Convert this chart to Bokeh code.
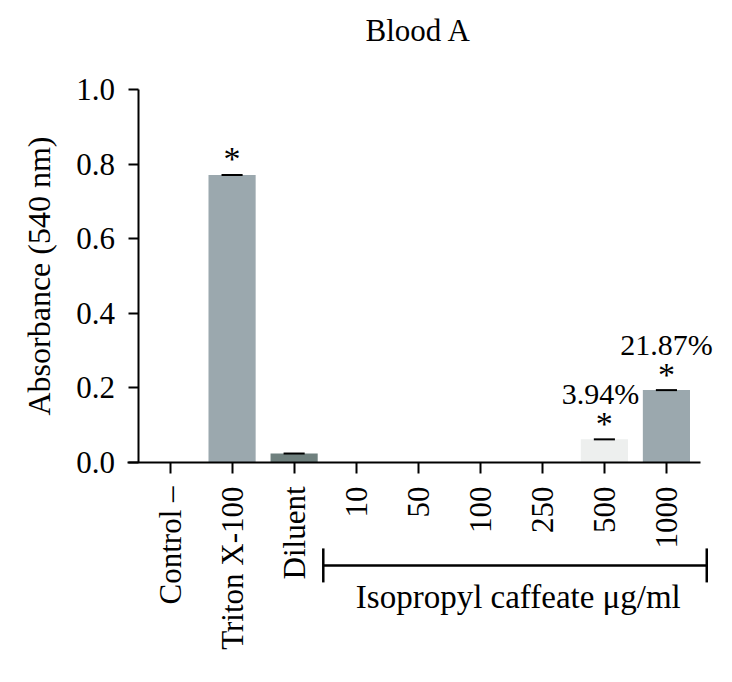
import math
from bokeh.plotting import figure
from bokeh.models import (Range1d, FixedTicker, PrintfTickFormatter, Whisker, TeeHead,
                          Label, LabelSet, ColumnDataSource)
from bokeh.embed import file_html
from bokeh.resources import INLINE

# ---------------- data ----------------
categories = ["Control –", "Triton X-100", "Diluent", "10", "50", "100", "250", "500", "1000"]
absorbance = [0.0, 0.771, 0.024, 0.0, 0.0, 0.0, 0.0, 0.062, 0.194]
has_error_bar = [False, True, True, False, False, False, False, True, True]
significant = [False, True, False, False, False, False, False, True, True]
percent_labels = ["", "", "", "", "", "", "", "3.94%", "21.87%"]
bar_colors = ["#9BA8AE", "#9BA8AE", "#6F807E", "#9BA8AE", "#9BA8AE", "#9BA8AE", "#9BA8AE",
              "#EDEFEE", "#9BA8AE"]
y_ticks = [0.0, 0.2, 0.4, 0.6, 0.8, 1.0]
group_first, group_last = 3, 8
title_text = "Blood A"
y_label = "Absorbance (540 nm)"
group_label = "Isopropyl caffeate μg/ml"

# ---------------- style / layout ----------------
FONT = "Liberation Serif"
TICK_SIZE = "31px"
BAR_WIDTH = 0.76
ERR_HALF = 0.17
W, H = 716, 666
X_START, X_END = -2.732, 8.807      # canvas-wide frame so that annotations are not clipped
Y_START, Y_END = -0.547, 1.2386
YAXIS_AT = -0.5                     # y axis sits half a category left of the first bar
XAXIS_BOUNDS = (-0.685, 8.55)
BRACKET_Y = -0.276
BRACKET_LO_PAD, BRACKET_HI_PAD = 0.53, 0.65
GROUP_LABEL_Y = -0.362
TITLE_POS = (4.005, 1.158)
PCT_DX = [-4, 0]

xs = list(range(len(categories)))

p = figure(width=W, height=H, title=None,
           x_range=Range1d(X_START, X_END), y_range=Range1d(Y_START, Y_END),
           output_backend="svg", toolbar_location=None, min_border=0)
p.outline_line_color = None
p.xgrid.visible = False
p.ygrid.visible = False
p.background_fill_color = "white"
p.border_fill_color = "white"

# axes (pinned in data space inside the frame)
for ax in (p.xaxis[0], p.yaxis[0]):
    ax.axis_line_width = 2
    ax.axis_line_color = "black"
    ax.major_tick_line_width = 2
    ax.major_tick_line_color = "black"
    ax.major_tick_in = 0
    ax.minor_tick_line_color = None
    ax.major_label_text_font = FONT
    ax.major_label_text_font_size = TICK_SIZE
    ax.major_label_text_color = "black"

p.yaxis.fixed_location = YAXIS_AT
p.yaxis.bounds = (0, 1)
p.yaxis.ticker = FixedTicker(ticks=y_ticks)
p.yaxis.formatter = PrintfTickFormatter(format="%.1f")
p.yaxis.major_tick_out = 10
p.yaxis.major_label_standoff = 14
p.yaxis.axis_label = y_label
p.yaxis.axis_label_text_font = FONT
p.yaxis.axis_label_text_font_size = "32px"
p.yaxis.axis_label_text_font_style = "normal"
p.yaxis.axis_label_text_color = "black"
p.yaxis.axis_label_standoff = 16

p.xaxis.fixed_location = 0
p.xaxis.bounds = XAXIS_BOUNDS
p.xaxis.ticker = FixedTicker(ticks=xs)
p.xaxis.major_label_overrides = {i: c for i, c in enumerate(categories)}
p.xaxis.major_label_orientation = math.pi / 2
p.xaxis.major_tick_out = 11
p.xaxis.major_label_standoff = 13

# title
p.add_layout(Label(x=TITLE_POS[0], y=TITLE_POS[1], text=title_text, text_align="center",
                   text_baseline="alphabetic", text_font=FONT, text_font_size="31px",
                   text_color="black"))

# bars
src = ColumnDataSource(dict(x=xs, top=absorbance, color=bar_colors))
p.vbar(x="x", top="top", width=BAR_WIDTH, bottom=0, fill_color="color", line_color=None, source=src)

# error bar caps
ex = [x for x, e in zip(xs, has_error_bar) if e]
ey = [a for a, e in zip(absorbance, has_error_bar) if e]
p.segment(x0=[x - ERR_HALF for x in ex], x1=[x + ERR_HALF for x in ex], y0=ey, y1=ey,
          line_color="black", line_width=2)

# significance asterisks
star_src = ColumnDataSource(dict(
    x=[x for x, s in zip(xs, significant) if s],
    y=[a for a, s in zip(absorbance, significant) if s],
    t=["*" for s in significant if s]))
p.add_layout(LabelSet(x="x", y="y", text="t", source=star_src, text_align="center",
                      text_baseline="middle", y_offset=16, text_font=FONT,
                      text_font_size="34px", text_color="black"))

# percentage labels
pct_src = ColumnDataSource(dict(
    x=[x for x, t in zip(xs, percent_labels) if t],
    y=[a for a, t in zip(absorbance, percent_labels) if t],
    t=[t for t in percent_labels if t],
    dx=PCT_DX))
p.add_layout(LabelSet(x="x", y="y", text="t", source=pct_src, text_align="center",
                      text_baseline="middle", x_offset="dx", y_offset=46, text_font=FONT,
                      text_font_size="30px", text_color="black"))

# group bracket and label
p.add_layout(Whisker(base=BRACKET_Y, lower=group_first - BRACKET_LO_PAD,
                     upper=group_last + BRACKET_HI_PAD, dimension="width",
                     line_color="black", line_width=2.5,
                     lower_head=TeeHead(size=34, line_width=2.5, line_color="black"),
                     upper_head=TeeHead(size=34, line_width=2.5, line_color="black")))
p.add_layout(Label(x=(group_first + group_last) / 2, y=GROUP_LABEL_Y, x_offset=7,
                   text=group_label, text_align="center", text_baseline="alphabetic",
                   text_font=FONT, text_font_size="33px", text_color="black"))

open("out.html", "w").write(file_html(p, INLINE))
